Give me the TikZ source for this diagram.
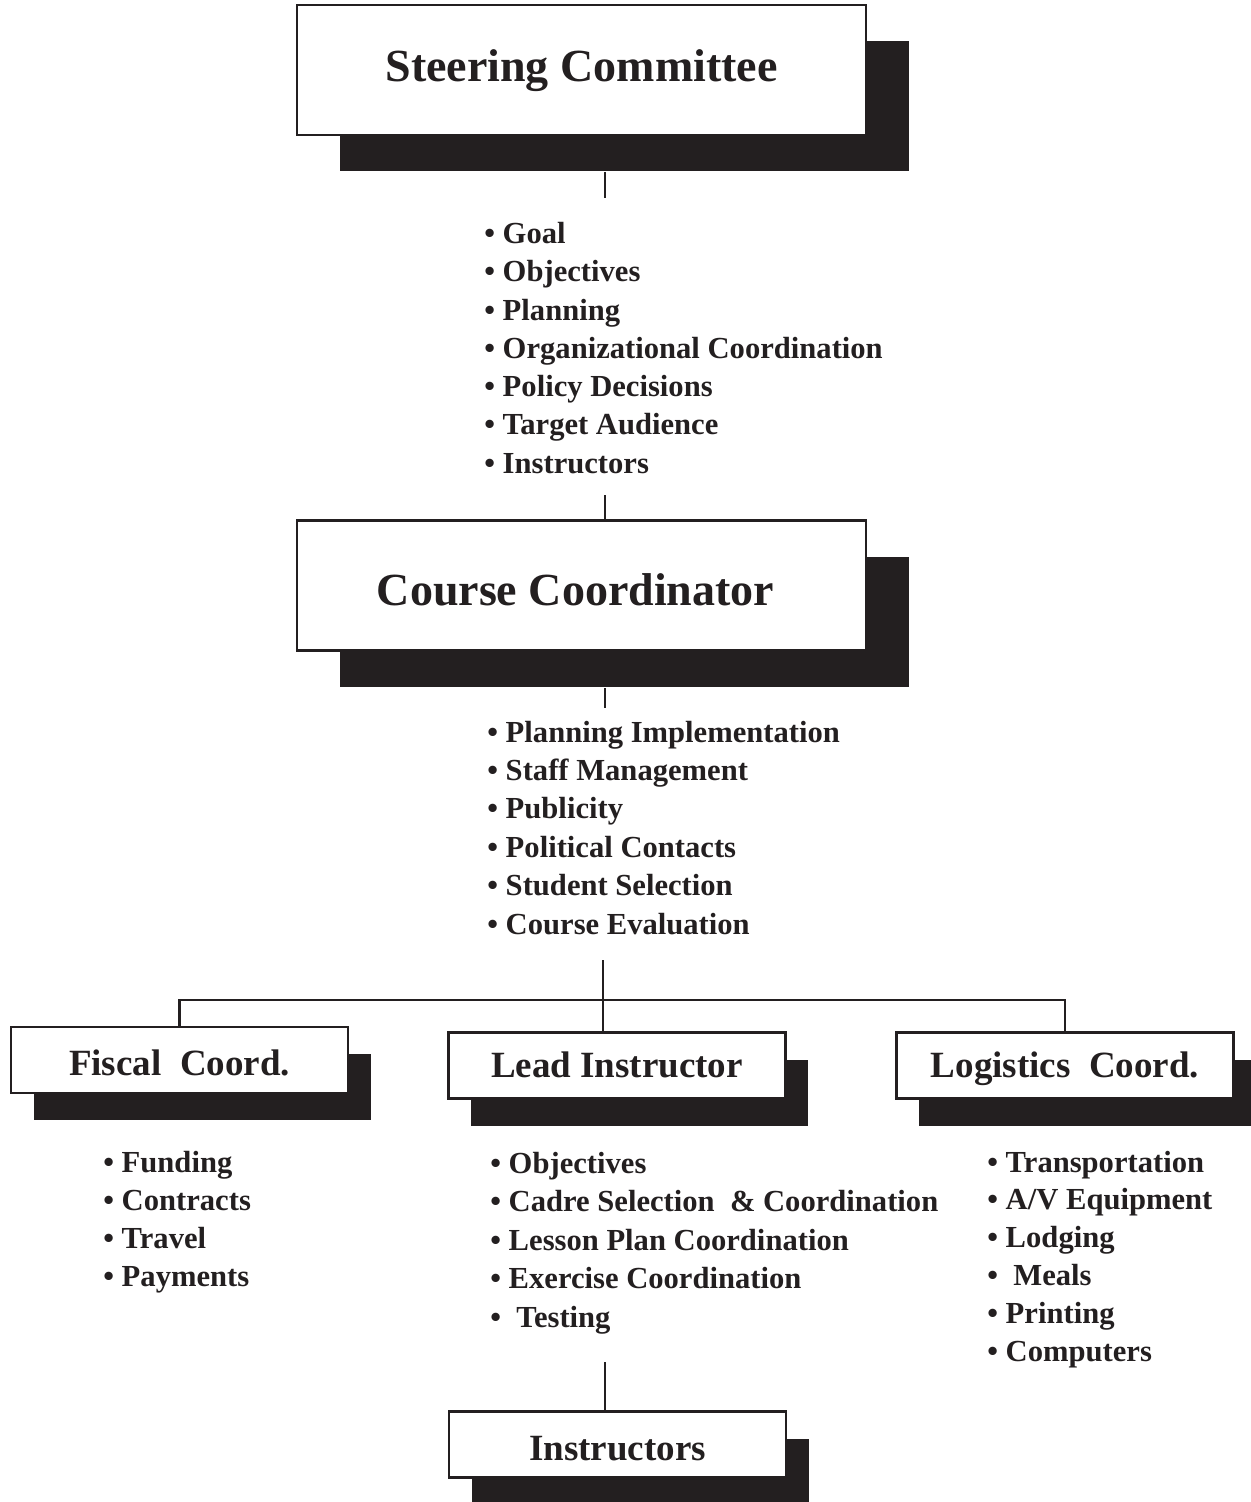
\documentclass[tikz,border=0pt]{standalone}
\usepackage{fontspec}
\setmainfont{Liberation Serif}
\usetikzlibrary{shadows}
\definecolor{ink}{RGB}{35,31,32}
\begin{document}
\begin{tikzpicture}[x=0.5pt,y=-0.5pt,
  bigbox/.style={draw=ink, line width=1.2pt, fill=white, inner sep=0pt,
    minimum width=284.5pt, minimum height=65pt, text=ink,
    font=\fontsize{23}{27}\selectfont\bfseries, text depth=0pt,
    drop shadow={shadow xshift=21.5pt, shadow yshift=-18pt, fill=ink, opacity=1}},
  smallbox/.style={draw=ink, line width=1.2pt, fill=white, inner sep=0pt,
    minimum width=168.5pt, minimum height=33pt, text=ink,
    font=\fontsize{18.5}{22}\selectfont\bfseries, text depth=0pt,
    drop shadow={shadow xshift=11.25pt, shadow yshift=-13.5pt, fill=ink, opacity=1}},
  item/.style={anchor=base west, inner sep=0pt, text=ink,
    font=\fontsize{15.3}{18}\selectfont\bfseries},
  link/.style={draw=ink, line width=1.1pt}]
\useasboundingbox (0,0) rectangle (1250,1502);

% boxes
\node[bigbox, text height=12pt] (sc) at (581.5,70) {Steering Committee};
\node[bigbox, text height=19.5pt] (cc) at (581.5,585.5) {Course Coordinator\hspace*{6pt}};
\node[smallbox, text height=15pt] (fc) at (179.5,1060) {Fiscal\ \ Coord.};
\node[smallbox, text height=11.5pt] (li) at (617,1065.5) {Lead\ Instructor};
\node[smallbox, text height=11.5pt] (lc) at (1065,1065.5) {Logistics\ \ Coord.};
\node[smallbox, text height=15.5pt] (in) at (617.5,1444.5) {Instructors};

% bullet lists
\foreach \t [count=\i from 0] in {Goal, Objectives, Planning,
    Organizational Coordination, Policy Decisions, Target Audience, Instructors}
  \node[item] (scl\i) at (484,{243.5+38.3*\i}) {• \t};
\foreach \t [count=\i from 0] in {Planning Implementation, Staff Management,
    Publicity, Political Contacts, Student Selection, Course Evaluation}
  \node[item] (ccl\i) at (487,{742+38.4*\i}) {• \t};
\foreach \t [count=\i from 0] in {Funding, Contracts, Travel, Payments}
  \node[item] (fcl\i) at (103,{1172+38.3*\i}) {• \t};
\foreach \t [count=\i from 0] in {Objectives, Cadre Selection\ \ \& Coordination,
    Lesson Plan Coordination, Exercise Coordination, \ Testing}
  \node[item] (lil\i) at (490,{1173+38.5*\i}) {• \t};
\foreach \t [count=\i from 0] in {Transportation, A/V Equipment, Lodging,
    \ Meals, Printing, Computers}
  \node[item] (lcl\i) at (987,{1172+37.9*\i}) {• \t};

% connector end points
\coordinate (sc-out) at (605,172);
\coordinate (sc-end) at (605,198);
\coordinate (cc-in) at (605,495);
\coordinate (cc-out) at (605,688);
\coordinate (cc-end) at (605,708);
\coordinate (hub-top) at (603,960);
\coordinate (hub) at (603,1000);
\coordinate (in-in) at (605,1362);

% connectors
\draw[link] (sc-out) -- (sc-end);
\draw[link] (cc-in) -- (cc-in |- cc.north);
\draw[link] (cc-out) -- (cc-end);
\draw[link] (hub-top) -- (hub-top |- li.north);
\draw[link] (fc.north) -- (fc.north |- hub) -- (lc.north |- hub) -- (lc.north);
\draw[link] (in-in) -- (in-in |- in.north);
\end{tikzpicture}
\end{document}
